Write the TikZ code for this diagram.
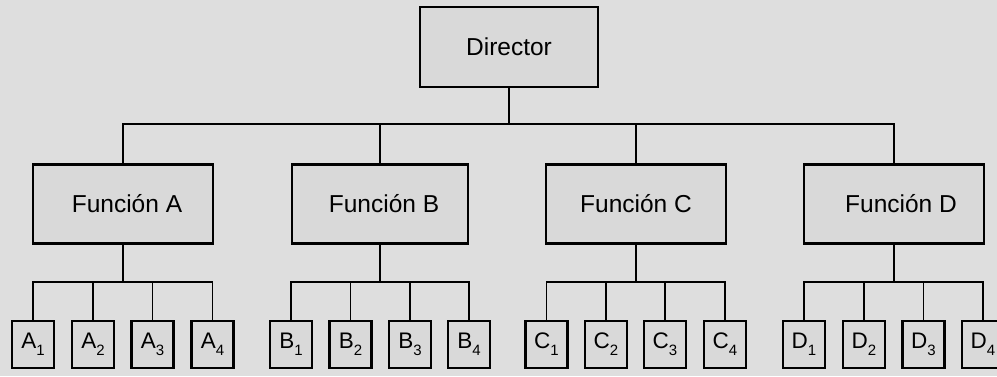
\documentclass[tikz,border=0pt]{standalone}
\usepackage{fontspec}
\setmainfont{Liberation Sans}
\newcommand\lbl[2]{#1\raisebox{-0.3em}{\fontsize{15}{15}\selectfont #2}}
\tikzset{
  bg/.style={fill=black!13},
  bigbox/.style={draw, line width=2.2pt, fill=black!15, inner sep=0pt, minimum width=180pt, minimum height=79pt, font=\fontsize{24.5}{26}\selectfont},
  smallbox/.style={draw, line width=2.2pt, fill=black!15, inner sep=0pt, minimum width=42pt, minimum height=47pt, font=\fontsize{22.5}{24}\selectfont},
  wire/.style={line width=1.9pt}
}
\begin{document}
\begin{tikzpicture}[x=1pt,y=-1pt]
\useasboundingbox (0,0) rectangle (997,376);
\clip (0,0) rectangle (997,376);
\fill[bg] (0,0) rectangle (997,376);
% top
\node[bigbox, minimum width=178pt, minimum height=80pt] (dir) at (509,47) {Director};
\coordinate (busT) at (509,124);
\node[bigbox] (fA) at (123,204) {\hspace*{8pt}Función A};
\node[bigbox, minimum width=176pt] (fB) at (380,204) {\hspace*{8pt}Función B};
\node[bigbox] (fC) at (636,204) {Función C};
\node[bigbox] (fD) at (894,204) {\hspace*{14pt}Función D};
\draw[wire] (dir.south) -- (busT);
\foreach \f in {fA,fB,fC,fD} \draw[wire] (busT) -| (\f.north);
% bottom buses
\coordinate (busA) at (123,282);
\coordinate (busB) at (380,282);
\coordinate (busC) at (636,282);
\coordinate (busD) at (894,282);
% A
\node[smallbox] (a1) at (33,344.5) {\lbl{A}{1}};
\node[smallbox] (a2) at (93,344.5) {\lbl{A}{2}};
\node[smallbox] (a3) at (152.5,344.5) {\lbl{A}{3}};
\node[smallbox] (a4) at (212.5,344.5) {\lbl{A}{4}};
% B
\node[smallbox] (b1) at (291,344.5) {\lbl{B}{1}};
\node[smallbox] (b2) at (350.5,344.5) {\lbl{B}{2}};
\node[smallbox] (b3) at (410,344.5) {\lbl{B}{3}};
\node[smallbox] (b4) at (469,344.5) {\lbl{B}{4}};
% C
\node[smallbox] (c1) at (546.5,344.5) {\lbl{C}{1}};
\node[smallbox] (c2) at (606,344.5) {\lbl{C}{2}};
\node[smallbox] (c3) at (665,344.5) {\lbl{C}{3}};
\node[smallbox] (c4) at (725,344.5) {\lbl{C}{4}};
% D
\node[smallbox] (d1) at (804,344.5) {\lbl{D}{1}};
\node[smallbox] (d2) at (864,344.5) {\lbl{D}{2}};
\node[smallbox] (d3) at (923.5,344.5) {\lbl{D}{3}};
\node[smallbox] (d4) at (983,344.5) {\lbl{D}{4}};
\draw[wire] (fA.south) -- (busA);
\draw[wire] (fB.south) -- (busB);
\draw[wire] (fC.south) -- (busC);
\draw[wire] (fD.south) -- (busD);
\foreach \n in {a1,a2,a3,a4} \draw[wire] (busA) -| (\n.north);
\foreach \n in {b1,b2,b3,b4} \draw[wire] (busB) -| (\n.north);
\foreach \n in {c1,c2,c3,c4} \draw[wire] (busC) -| (\n.north);
\foreach \n in {d1,d2,d3,d4} \draw[wire] (busD) -| (\n.north);
\end{tikzpicture}
\end{document}
